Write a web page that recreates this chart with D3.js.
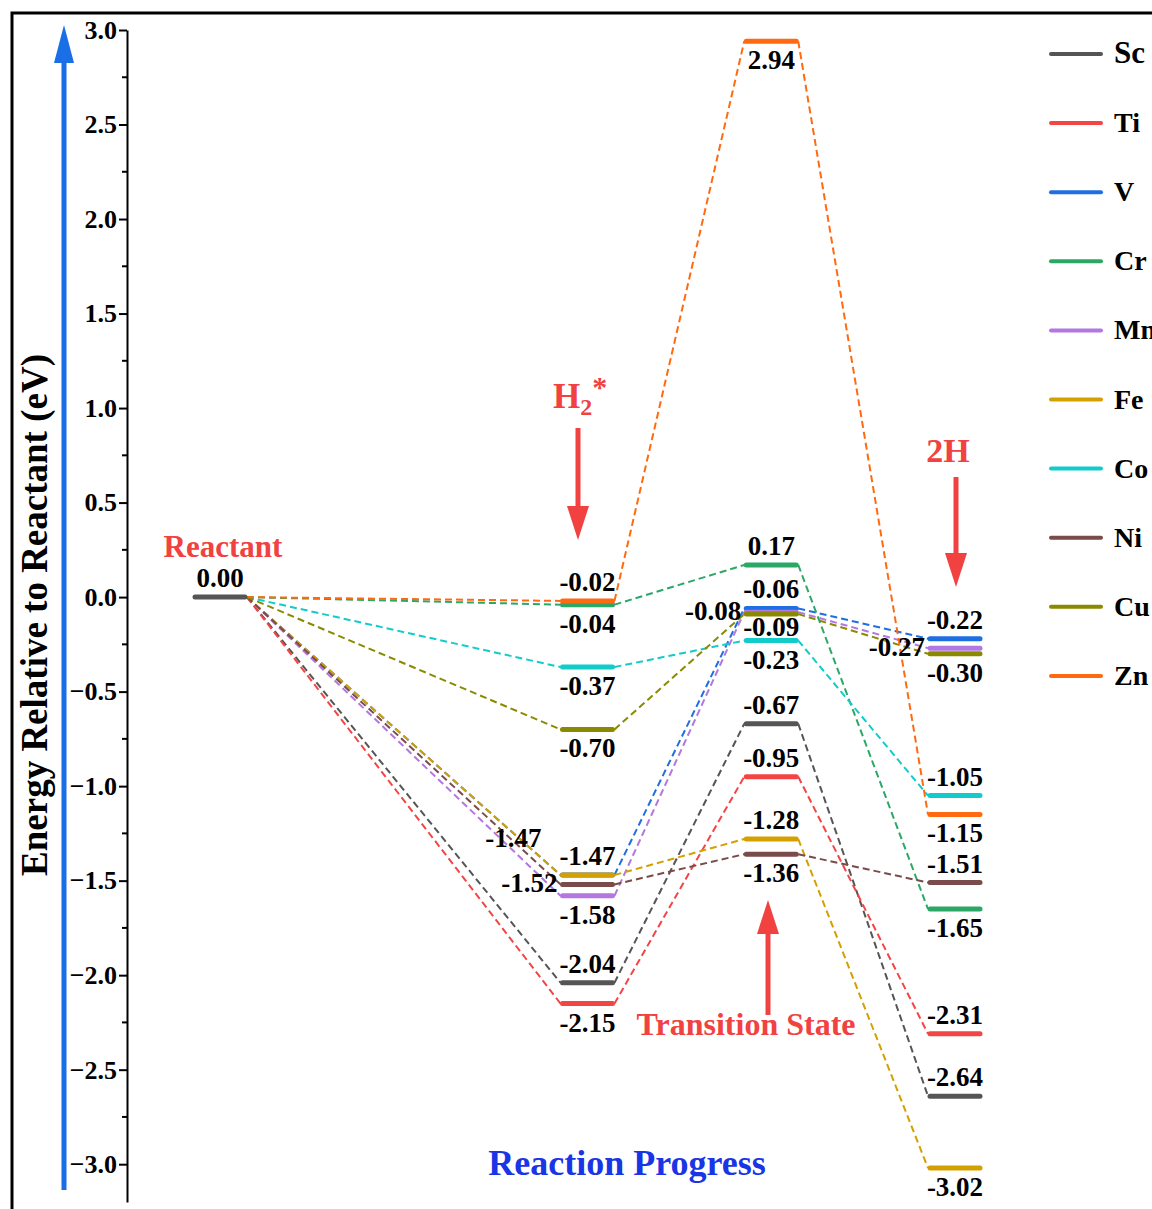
<!DOCTYPE html>
<html>
<head>
<meta charset="utf-8">
<script src="https://cdn.jsdelivr.net/npm/d3@7"></script>
<style>
  html, body { margin: 0; padding: 0; background: #fff; }
  svg { display: block; }
  text { font-family: "Liberation Serif", "Times New Roman", serif; font-weight: bold; }
</style>
</head>
<body>
<svg id="chart" width="1152" height="1209"></svg>
<script>
// Reaction stages and their coordinate along the reaction path
const stages = ["Reactant", "H2*", "TS", "2H"];
const progress = [0, 2, 3, 4];

// Transition metals compared
const metals = ["Sc", "Ti", "V", "Cr", "Mn", "Fe", "Co", "Ni", "Cu", "Zn"];
const metalColors = ["#555555", "#f44545", "#1f6fe0", "#2ba866", "#b277e0",
                     "#d4a000", "#12cccc", "#7a4b4b", "#8a8a00", "#ff6a10"];

// Energies relative to the reactant (eV)
const reactantEnergy = 0.00;
const adsorbedEnergy = [-2.04, -2.15, -1.47, -0.04, -1.58, -1.47, -0.37, -1.52, -0.70, -0.02];
const transitionEnergy = [-0.67, -0.95, -0.06, 0.17, -0.08, -1.28, -0.23, -1.36, -0.09, 2.94];
const dissociatedEnergy = [-2.64, -2.31, -0.22, -1.65, -0.27, -3.02, -1.05, -1.51, -0.30, -1.15];

// Where each value label sits: a = above, b = below, bt = tight below, l = left, ul = upper left
const adsorbedLabelSpot = ["a", "b", "ul", "b", "b", "a", "b", "l", "b", "a"];
const transitionLabelSpot = ["a", "a", "a", "a", "l", "a", "b", "b", "bt", "b"];
const dissociatedLabelSpot = ["a", "a", "a", "b", "l", "b", "a", "a", "b", "b"];

// Axis ticks
const majorTicks = [-3.0, -2.5, -2.0, -1.5, -1.0, -0.5, 0.0, 0.5, 1.0, 1.5, 2.0, 2.5, 3.0];
const minorTicks = [-2.75, -2.25, -1.75, -1.25, -0.75, -0.25, 0.25, 0.75, 1.25, 1.75, 2.25, 2.75];

const svg = d3.select("#chart");
const RED = "#f24141";

const y = d3.scaleLinear().domain([-3.2, 3.0]).range([1202, 30]);
const x = d3.scaleLinear().domain([0, 4]).range([220, 955]);
const halfBar = 27;

// outer frame
svg.append("rect").attr("x", 12).attr("y", 13).attr("width", 1300).attr("height", 1300)
  .attr("fill", "none").attr("stroke", "#000").attr("stroke-width", 3);

// energy direction arrow
svg.append("line").attr("x1", 64).attr("x2", 64).attr("y1", 1190).attr("y2", 58)
  .attr("stroke", "#1a6fe6").attr("stroke-width", 5);
svg.append("path").attr("d", "M54,63 L64,25 L74,63 Z").attr("fill", "#1a6fe6");

// y axis
const axis = svg.append("g").attr("transform", "translate(127,0)")
  .call(d3.axisLeft(y).tickValues(majorTicks).tickSize(8).tickSizeOuter(0)
    .tickPadding(2).tickFormat(d3.format(".1f")));
axis.select(".domain").attr("stroke-width", 2);
axis.selectAll(".tick line").attr("stroke-width", 2);
axis.selectAll(".tick text").attr("font-size", 26).attr("fill", "#000")
  .style("font-family", "'Liberation Serif', 'Times New Roman', serif").style("font-weight", "bold");
svg.append("g").attr("transform", "translate(127,0)")
  .selectAll("line").data(minorTicks).join("line")
  .attr("x1", -5).attr("x2", 0).attr("y1", d => y(d)).attr("y2", d => y(d))
  .attr("stroke", "#000").attr("stroke-width", 2);

svg.append("text").attr("transform", "translate(47,615) rotate(-90)")
  .attr("text-anchor", "middle").attr("font-size", 37).text("Energy Relative to Reactant (eV)");

// per-metal energy profiles
const profiles = metals.map((m, i) => ({
  metal: m,
  color: metalColors[i],
  levels: [
    { s: 0, e: reactantEnergy, spot: null },
    { s: 1, e: adsorbedEnergy[i], spot: adsorbedLabelSpot[i] },
    { s: 2, e: transitionEnergy[i], spot: transitionLabelSpot[i] },
    { s: 3, e: dissociatedEnergy[i], spot: dissociatedLabelSpot[i] }
  ]
}));

// dashed connectors
const links = svg.append("g");
profiles.forEach(p => {
  for (let k = 0; k < 3; k++) {
    const a = p.levels[k], b = p.levels[k + 1];
    links.append("line")
      .attr("x1", x(progress[a.s]) + halfBar).attr("y1", y(a.e))
      .attr("x2", x(progress[b.s]) - halfBar).attr("y2", y(b.e))
      .attr("stroke", p.color).attr("stroke-width", 2).attr("stroke-dasharray", "7,4");
  }
});

// energy level bars
const bars = svg.append("g");
profiles.forEach(p => {
  p.levels.slice(1).forEach(l => {
    bars.append("line")
      .attr("x1", x(progress[l.s]) - halfBar + 2).attr("x2", x(progress[l.s]) + halfBar - 2)
      .attr("y1", y(l.e)).attr("y2", y(l.e))
      .attr("stroke", p.color).attr("stroke-width", 5).attr("stroke-linecap", "round");
  });
});
bars.append("line")
  .attr("x1", x(progress[0]) - halfBar + 2).attr("x2", x(progress[0]) + halfBar - 2)
  .attr("y1", y(reactantEnergy)).attr("y2", y(reactantEnergy))
  .attr("stroke", metalColors[0]).attr("stroke-width", 5).attr("stroke-linecap", "round");

// value labels
const fmt = v => (v < 0 ? "-" : "") + Math.abs(v).toFixed(2);
const labels = svg.append("g").attr("font-size", 27).attr("fill", "#000");
function addLabel(s, e, spot) {
  const cx = x(progress[s]), cy = y(e);
  const t = labels.append("text").text(fmt(e));
  if (spot === "a") t.attr("x", cx).attr("y", cy - 10).attr("text-anchor", "middle");
  else if (spot === "b") t.attr("x", cx).attr("y", cy + 28).attr("text-anchor", "middle");
  else if (spot === "bt") t.attr("x", cx).attr("y", cy + 22).attr("text-anchor", "middle");
  else if (spot === "l") t.attr("x", cx - halfBar - 3).attr("y", cy + 8).attr("text-anchor", "end");
  else if (spot === "ul") t.attr("x", cx - halfBar - 19).attr("y", cy - 28).attr("text-anchor", "end");
}
addLabel(0, reactantEnergy, "a");
profiles.forEach(p => p.levels.slice(1).forEach(l => addLabel(l.s, l.e, l.spot)));

// stage annotations
svg.append("text").attr("x", 223).attr("y", 557).attr("text-anchor", "middle")
  .attr("font-size", 31).attr("fill", RED).text("Reactant");

const h2 = svg.append("text").attr("x", 553).attr("y", 408).attr("fill", RED).attr("font-size", 35);
h2.append("tspan").text("H");
h2.append("tspan").attr("dy", 7).attr("font-size", 24).text("2");
h2.append("tspan").attr("dy", -18).attr("font-size", 30).text("*");

svg.append("text").attr("x", 948).attr("y", 462).attr("text-anchor", "middle")
  .attr("font-size", 34).attr("fill", RED).text("2H");

svg.append("text").attr("x", 746).attr("y", 1035).attr("text-anchor", "middle")
  .attr("font-size", 32).attr("fill", RED).text("Transition State");

svg.append("text").attr("x", 627).attr("y", 1175).attr("text-anchor", "middle")
  .attr("font-size", 36).attr("fill", "#1a35e6").text("Reaction Progress");

// pointer arrows
function arrow(xc, yFrom, yTip) {
  const dir = yTip > yFrom ? 1 : -1;
  const headLen = 34;
  svg.append("line").attr("x1", xc).attr("x2", xc).attr("y1", yFrom).attr("y2", yTip - dir * headLen + dir * 2)
    .attr("stroke", RED).attr("stroke-width", 5);
  svg.append("path")
    .attr("d", `M${xc - 11},${yTip - dir * headLen} L${xc},${yTip} L${xc + 11},${yTip - dir * headLen} Z`)
    .attr("fill", RED);
}
arrow(578, 428, 540);
arrow(956, 477, 587);
arrow(768, 1015, 900);

// legend
const legend = svg.append("g");
metals.forEach((m, i) => {
  const ly = 54 + i * 69.1;
  legend.append("line").attr("x1", 1051).attr("x2", 1101).attr("y1", ly).attr("y2", ly)
    .attr("stroke", metalColors[i]).attr("stroke-width", 4).attr("stroke-linecap", "round");
  legend.append("text").attr("x", 1114).attr("y", ly + 9)
    .attr("font-size", i === 0 ? 31 : 28).attr("fill", "#000").text(m);
});
</script>
</body>
</html>
